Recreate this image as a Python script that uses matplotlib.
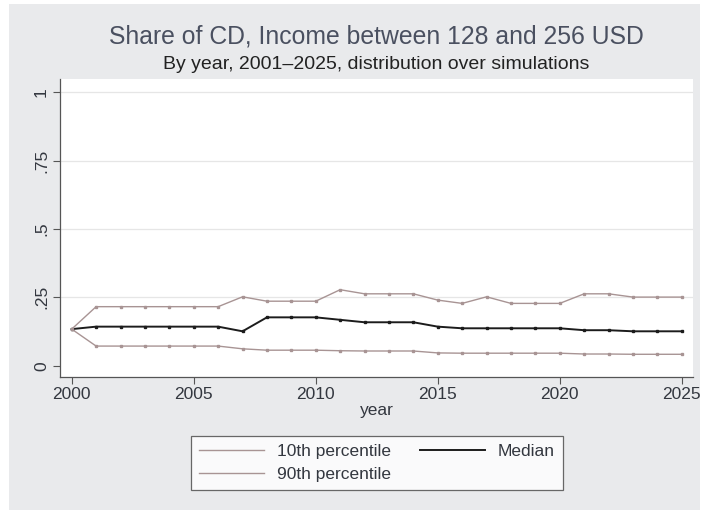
import numpy as np
import matplotlib.pyplot as plt

# yearly share of CD, income 128-256 USD, across simulations
years = list(range(2000, 2026))
p10 = [0.134, 0.072, 0.072, 0.072, 0.072, 0.072, 0.072, 0.062, 0.057, 0.057,
       0.057, 0.055, 0.054, 0.054, 0.054, 0.047, 0.046, 0.046, 0.046, 0.046,
       0.046, 0.043, 0.043, 0.042, 0.042, 0.042]
median = [0.134, 0.143, 0.143, 0.143, 0.143, 0.143, 0.143, 0.126, 0.177, 0.177,
          0.177, 0.168, 0.159, 0.159, 0.159, 0.143, 0.137, 0.137, 0.137, 0.137,
          0.137, 0.130, 0.130, 0.126, 0.126, 0.126]
p90 = [0.134, 0.216, 0.216, 0.216, 0.216, 0.216, 0.216, 0.252, 0.236, 0.236,
       0.236, 0.278, 0.263, 0.263, 0.263, 0.240, 0.228, 0.252, 0.228, 0.228,
       0.228, 0.263, 0.263, 0.251, 0.251, 0.251]

yticks = [0, 0.25, 0.5, 0.75, 1]
yticklabels = ['0', '.25', '.5', '.75', '1']
xticks = [2000, 2005, 2010, 2015, 2020, 2025]

bg = '#e9eaec'
txt = '#33373f'
pct_col = '#a89494'
fs = 12.5

plt.rcParams['font.family'] = ['Liberation Sans', 'DejaVu Sans']

fig = plt.figure(figsize=(7.03, 5.15), dpi=100)
fig.patch.set_facecolor('white')
# grey outer region
fig.patches.append(plt.Rectangle((9 / 703, 5 / 515), 691 / 703, 506 / 515,
                                 transform=fig.transFigure, facecolor=bg,
                                 edgecolor='none', zorder=-10))

ax = fig.add_axes([60 / 703, 1 - 377 / 515, 633 / 703, 298 / 515])
ax.set_facecolor('white')

for y in yticks[1:]:
    ax.axhline(y, color='#e6e6e6', lw=0.9, zorder=0)

l1, = ax.plot(years, p10, color=pct_col, lw=1.0, marker='s', ms=1.6,
              mec=pct_col, mfc=pct_col)
l2, = ax.plot(years, median, color='#1c1c1c', lw=1.4, marker='s', ms=1.8,
              mec='#1c1c1c', mfc='#1c1c1c')
l3, = ax.plot(years, p90, color=pct_col, lw=1.0, marker='s', ms=1.6,
              mec=pct_col, mfc=pct_col)

ax.set_xlim(1999.52, 2025.46)
ax.set_ylim(-0.041, 1.048)
ax.set_xticks(xticks)
ax.set_xticklabels([str(x) for x in xticks], fontsize=fs, color=txt)
ax.set_yticks(yticks)
ax.set_yticklabels(yticklabels, fontsize=fs, color=txt, rotation=90,
                   va='center')
ax.tick_params(axis='both', length=5, width=0.8, color='#555555')
ax.tick_params(axis='x', pad=2)
ax.tick_params(axis='y', pad=3)
for side in ['top', 'right']:
    ax.spines[side].set_visible(False)
for side in ['left', 'bottom']:
    ax.spines[side].set_color('#555555')
    ax.spines[side].set_linewidth(0.9)
ax.set_xlabel('year', fontsize=fs, color=txt, labelpad=1)

# titles centred over the plot region
cx = (60 + 693) / 2 / 703
fig.text(cx, 1 - 36 / 515, 'Share of CD, Income between 128 and 256 USD',
         ha='center', va='center', fontsize=17.8, color='#4a5060')
fig.text(cx, 1 - 65 / 515, 'By year, 2001\u20132025, distribution over simulations',
         ha='center', va='center', fontsize=14, color='#222222')

leg = fig.legend([l1, l3, l2], ['10th percentile', '90th percentile', 'Median'],
                 ncol=2, loc='center', bbox_to_anchor=(377 / 703, 1 - 463 / 515),
                 fontsize=fs, frameon=True, fancybox=False, handlelength=3.75,
                 handletextpad=0.75, columnspacing=1.65, borderpad=0.45,
                 labelspacing=0.5, labelcolor=txt)
for h in leg.legend_handles:
    h.set_marker('')
leg.get_frame().set_edgecolor('#444444')
leg.get_frame().set_linewidth(0.9)

fig.savefig('out.png', dpi=100, facecolor=fig.get_facecolor())
